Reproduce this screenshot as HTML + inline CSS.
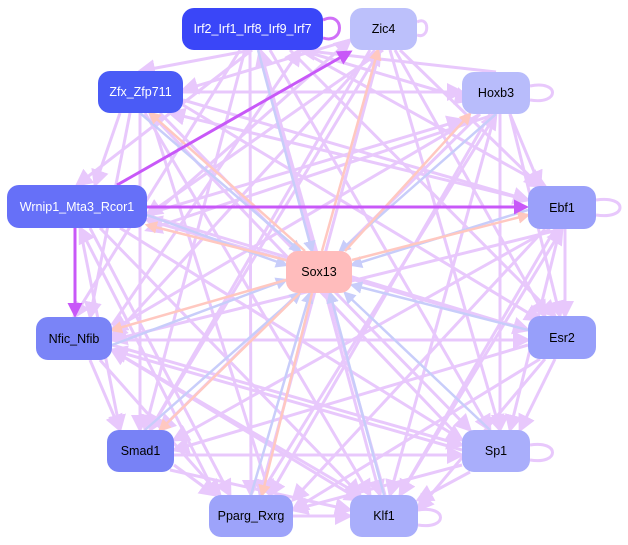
<!DOCTYPE html>
<html><head><meta charset="utf-8"><style>
body{margin:0;background:#fff;width:628px;height:545px;overflow:hidden}
svg{position:absolute;left:0;top:0}
.n{position:absolute;border-radius:12px;display:flex;align-items:center;justify-content:center;font:12.5px "Liberation Sans",sans-serif;color:#000}
.w{color:#fff}
</style></head><body>
<svg width="628" height="545">
<defs>
<marker id="a" markerWidth="6" markerHeight="6" refX="5" refY="3" orient="auto" markerUnits="strokeWidth"><path d="M0,0L6,3L0,6z" fill="#e8c8fc"/></marker>
<marker id="b" markerWidth="5" markerHeight="5" refX="4" refY="2.5" orient="auto" markerUnits="strokeWidth"><path d="M0,0L5,2.5L0,5z" fill="#c8cdfa"/></marker>
<marker id="c" markerWidth="5" markerHeight="5" refX="4" refY="2.5" orient="auto" markerUnits="strokeWidth"><path d="M0,0L5,2.5L0,5z" fill="#ffc8c0"/></marker>
<marker id="d" markerWidth="5" markerHeight="5" refX="4" refY="2.5" orient="auto" markerUnits="strokeWidth"><path d="M0,0L5,2.5L0,5z" fill="#c858f8"/></marker>
</defs>
<g stroke="#e8c8fc" stroke-width="3" fill="none" marker-end="url(#a)">
<line x1="252" y1="50" x2="140" y2="71"/><line x1="252" y1="50" x2="77" y2="185"/><line x1="240" y1="50" x2="74" y2="317"/><line x1="245" y1="50" x2="145" y2="430"/><line x1="250" y1="50" x2="251" y2="495"/><line x1="260" y1="50" x2="380" y2="495"/><line x1="270" y1="50" x2="490" y2="430"/><line x1="290" y1="50" x2="555" y2="316"/><line x1="300" y1="50" x2="545" y2="186"/><line x1="300" y1="50" x2="470" y2="100"/>
<line x1="383" y1="50" x2="147" y2="215"/><line x1="375" y1="50" x2="112" y2="338"/><line x1="370" y1="50" x2="150" y2="430"/><line x1="380" y1="50" x2="260" y2="495"/><line x1="390" y1="50" x2="500" y2="430"/><line x1="395" y1="50" x2="545" y2="316"/><line x1="400" y1="50" x2="540" y2="186"/><line x1="350" y1="40" x2="183" y2="90"/>
<line x1="183" y1="92" x2="462" y2="92"/><line x1="150" y1="113" x2="270" y2="495"/><line x1="160" y1="113" x2="470" y2="430"/><line x1="183" y1="105" x2="540" y2="320"/><line x1="183" y1="100" x2="528" y2="200"/><line x1="140" y1="113" x2="140" y2="430"/><line x1="130" y1="113" x2="90" y2="317"/><line x1="120" y1="113" x2="95" y2="185"/><line x1="145" y1="113" x2="370" y2="495"/>
<line x1="496" y1="114" x2="147" y2="230"/><line x1="480" y1="114" x2="112" y2="330"/><line x1="480" y1="114" x2="160" y2="430"/><line x1="490" y1="114" x2="270" y2="495"/><line x1="495" y1="114" x2="390" y2="495"/><line x1="500" y1="114" x2="500" y2="430"/><line x1="510" y1="114" x2="560" y2="316"/><line x1="510" y1="114" x2="540" y2="186"/><line x1="496" y1="72" x2="300" y2="50"/>
<line x1="90" y1="228" x2="230" y2="495"/><line x1="100" y1="228" x2="360" y2="495"/><line x1="120" y1="228" x2="462" y2="440"/><line x1="147" y1="215" x2="528" y2="330"/><line x1="80" y1="228" x2="120" y2="430"/><line x1="100" y1="228" x2="462" y2="120"/><line x1="147" y1="220" x2="350" y2="40"/>
<line x1="562" y1="229" x2="112" y2="340"/><line x1="550" y1="229" x2="174" y2="440"/><line x1="545" y1="229" x2="293" y2="500"/><line x1="555" y1="229" x2="400" y2="495"/><line x1="560" y1="229" x2="510" y2="430"/><line x1="565" y1="229" x2="565" y2="316"/><line x1="528" y1="200" x2="170" y2="113"/>
<line x1="112" y1="340" x2="528" y2="340"/><line x1="100" y1="360" x2="220" y2="495"/><line x1="112" y1="350" x2="360" y2="500"/><line x1="112" y1="345" x2="462" y2="445"/><line x1="90" y1="360" x2="120" y2="430"/><line x1="112" y1="325" x2="300" y2="50"/>
<line x1="528" y1="345" x2="174" y2="450"/><line x1="540" y1="359" x2="293" y2="510"/><line x1="545" y1="359" x2="418" y2="510"/><line x1="555" y1="359" x2="520" y2="430"/><line x1="528" y1="330" x2="147" y2="220"/>
<line x1="174" y1="455" x2="462" y2="455"/><line x1="174" y1="465" x2="215" y2="495"/><line x1="170" y1="470" x2="350" y2="510"/><line x1="150" y1="430" x2="380" y2="50"/>
<line x1="462" y1="465" x2="293" y2="510"/><line x1="470" y1="472" x2="418" y2="500"/><line x1="462" y1="450" x2="112" y2="350"/><line x1="462" y1="440" x2="150" y2="113"/>
<line x1="293" y1="516" x2="350" y2="516"/><line x1="260" y1="495" x2="496" y2="114"/><line x1="385" y1="495" x2="260" y2="50"/><line x1="360" y1="495" x2="112" y2="350"/>
<line x1="216" y1="495" x2="80" y2="228"/><line x1="400" y1="495" x2="562" y2="229"/>
</g>
<g stroke="#c8cdfa" stroke-width="2.5" fill="none" marker-end="url(#b)">
<line x1="258" y1="50" x2="312" y2="251"/><line x1="496" y1="114" x2="340" y2="251"/><line x1="140" y1="113" x2="300" y2="251"/><line x1="528" y1="210" x2="352" y2="265"/><line x1="147" y1="215" x2="286" y2="265"/><line x1="112" y1="345" x2="286" y2="280"/><line x1="145" y1="430" x2="300" y2="293"/><line x1="251" y1="495" x2="310" y2="293"/><line x1="384" y1="495" x2="330" y2="293"/><line x1="490" y1="430" x2="345" y2="293"/><line x1="528" y1="330" x2="352" y2="285"/>
</g>
<g stroke="#ffc8c0" stroke-width="2.5" fill="none" marker-end="url(#c)">
<line x1="322" y1="251" x2="378" y2="50"/><line x1="345" y1="251" x2="470" y2="114"/><line x1="352" y1="260" x2="528" y2="215"/><line x1="305" y1="251" x2="150" y2="113"/><line x1="286" y1="260" x2="147" y2="225"/><line x1="286" y1="280" x2="112" y2="330"/><line x1="300" y1="293" x2="160" y2="430"/><line x1="312" y1="293" x2="262" y2="495"/>
</g>
<g stroke="#c858f8" stroke-width="3" fill="none" marker-end="url(#d)">
<line x1="147" y1="207" x2="526" y2="207"/><line x1="117" y1="185" x2="350" y2="52"/><line x1="75" y1="228" x2="75" y2="315"/>
</g>
<g stroke="#e8c8fc" stroke-width="3" fill="none">
<path d="M323,20 C345,10 345,45 323,38" stroke="#d070f8"/>
<path d="M530,86 C560,80 560,105 530,100"/><path d="M596,200 C628,195 628,220 596,215"/><path d="M530,445 C560,440 560,465 530,460"/><path d="M418,510 C448,505 448,530 418,525"/><path d="M417,22 C430,15 430,40 417,35"/>
</g>
</svg>
<div class="n w" style="left:182px;top:8px;width:141px;height:42px;background:#3a46f8">Irf2_Irf1_Irf8_Irf9_Irf7</div>
<div class="n" style="left:350px;top:8px;width:67px;height:42px;background:#bcc0fb">Zic4</div>
<div class="n w" style="left:98px;top:71px;width:85px;height:42px;background:#4a5bf6">Zfx_Zfp711</div>
<div class="n" style="left:462px;top:72px;width:68px;height:42px;background:#b8bcfb">Hoxb3</div>
<div class="n w" style="left:7px;top:185px;width:140px;height:43px;background:#6670f8">Wrnip1_Mta3_Rcor1</div>
<div class="n" style="left:528px;top:186px;width:68px;height:43px;background:#9aa0fa">Ebf1</div>
<div class="n" style="left:286px;top:251px;width:66px;height:42px;background:#ffbcbc">Sox13</div>
<div class="n" style="left:36px;top:317px;width:76px;height:43px;background:#7a84f7">Nfic_Nfib</div>
<div class="n" style="left:528px;top:316px;width:68px;height:43px;background:#979ffa">Esr2</div>
<div class="n" style="left:107px;top:430px;width:67px;height:42px;background:#7882f6">Smad1</div>
<div class="n" style="left:462px;top:430px;width:68px;height:42px;background:#a9aefb">Sp1</div>
<div class="n" style="left:209px;top:495px;width:84px;height:42px;background:#9da3fa">Pparg_Rxrg</div>
<div class="n" style="left:350px;top:495px;width:68px;height:42px;background:#a9aefb">Klf1</div>
</body></html>
